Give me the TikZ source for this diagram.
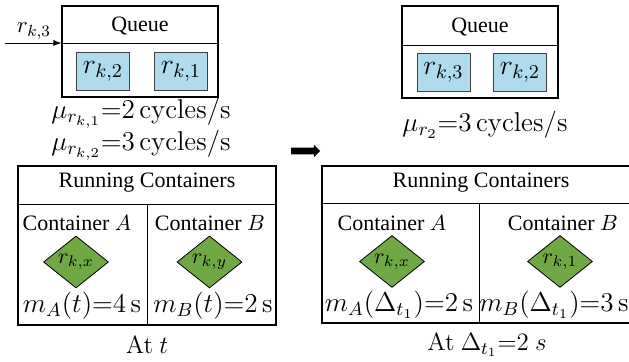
\RequirePackage{fix-cm}
\documentclass[tikz,border=0pt]{standalone}
\usepackage[no-math]{fontspec}
\setmainfont{Liberation Serif}
\usepackage{xcolor}
\usetikzlibrary{shapes.arrows}
\usetikzlibrary{shapes.geometric}

\definecolor{qblue}{RGB}{174,220,238}
\definecolor{cgreen}{RGB}{112,168,68}

\begin{document}
\begin{tikzpicture}[x=.5pt,y=-.5pt,
    frame/.style={draw,line width=.55pt,inner sep=0pt},
    req/.style={draw=black!75,fill=qblue,minimum width=26.5pt,minimum height=19pt,
      inner sep=0pt,font=\fontsize{14}{16}\selectfont},
    task/.style={diamond,draw,fill=cgreen,minimum width=32.5pt,minimum height=26pt,
      inner sep=0pt,font=\fontsize{11}{13}\selectfont},
    lbl/.style={font=\fontsize{11}{13}\selectfont},
    val/.style={font=\fontsize{13.6}{16}\selectfont},
    tag/.style={font=\fontsize{12.5}{15}\selectfont}]
  \clip (0,0) rectangle (629,362);

  % queue before
  \node (qa) [frame,minimum width=78pt,minimum height=45.5pt] at (140,51.5) {};
  \draw (qa.west |- 0,43) -- (qa.east |- 0,43);
  \node (qta) [lbl] at (140,26) {Queue};
  \node (a2) [req] at (103,71.5) {$r_{k,2}$};
  \node (a1) [req] at (181,71.5) {$r_{k,1}$};
  \coordinate (src) at (5,43);
  \draw[-latex] (src) -- (qa.west |- src);
  \node (in) [font=\fontsize{11.5}{13}\selectfont] at (34,31) {$r_{k,3}$};
  \node (ua1) [val] at (141,113) {$\mu_{r_{k,1}}{=}2\,\mathrm{cycles/s}$};
  \node (ua2) [val] at (141,145) {$\mu_{r_{k,2}}{=}3\,\mathrm{cycles/s}$};

  % queue after
  \node (qb) [frame,minimum width=78pt,minimum height=46pt] at (480,52) {};
  \draw (qb.west |- 0,45) -- (qb.east |- 0,45);
  \node (qtb) [lbl] at (480,27) {Queue};
  \node (b3) [req] at (443.5,72) {$r_{k,3}$};
  \node (b2) [req] at (520,72) {$r_{k,2}$};
  \node (ub) [val] at (485,125) {$\mu_{r_2}{=}3\,\mathrm{cycles/s}$};

  \node (go) [single arrow,fill=black,inner xsep=0pt,inner ysep=1.5pt,
    minimum height=14.5pt,single arrow head extend=1.5pt] at (304,151) {};

  % containers at t
  \node (ca) [frame,minimum width=129pt,minimum height=79.5pt] at (147,245.5) {};
  \draw (ca.west |- 0,204) -- (ca.east |- 0,204);
  \draw (ca.center |- 0,204) -- (ca.south);
  \node (ha) [lbl] at (147,183) {Running Containers};
  \node (na) [lbl] at (77,223) {Container $A$};
  \node (nb) [lbl] at (210,223) {Container $B$};
  \node (xa) [task] at (76,262) {$r_{k,x}$};
  \node (ya) [task] at (209.5,262) {$r_{k,y}$};
  \node (ma) [val] at (82,306) {$m_A(t){=}4\,\mathrm{s}$};
  \node (mb) [val] at (213,306) {$m_B(t){=}2\,\mathrm{s}$};
  \node (ta) [tag] at (147,345) {$\mathrm{At}\ t$};

  % containers at delta
  \node (cb) [frame,minimum width=157pt,minimum height=78.5pt] at (479,244.5) {};
  \draw (cb.west |- 0,203) -- (cb.east |- 0,203);
  \draw (cb.center |- 0,203) -- (cb.south);
  \node (hb) [lbl] at (481,183) {Running Containers};
  \node (nc) [lbl] at (392,223) {Container $A$};
  \node (nd) [lbl] at (563,223) {Container $B$};
  \node (xb) [task] at (392,261.5) {$r_{k,x}$};
  \node (yb) [task] at (560,261.5) {$r_{k,1}$};
  \node (mc) [val] at (399,305) {$m_A(\Delta_{t_1}){=}2\,\mathrm{s}$};
  \node (md) [val] at (554,305) {$m_B(\Delta_{t_1}){=}3\,\mathrm{s}$};
  \node (tb) [tag] at (487,345) {$\mathrm{At}\ \Delta_{t_1}{=}2\ s$};
\end{tikzpicture}
\end{document}
